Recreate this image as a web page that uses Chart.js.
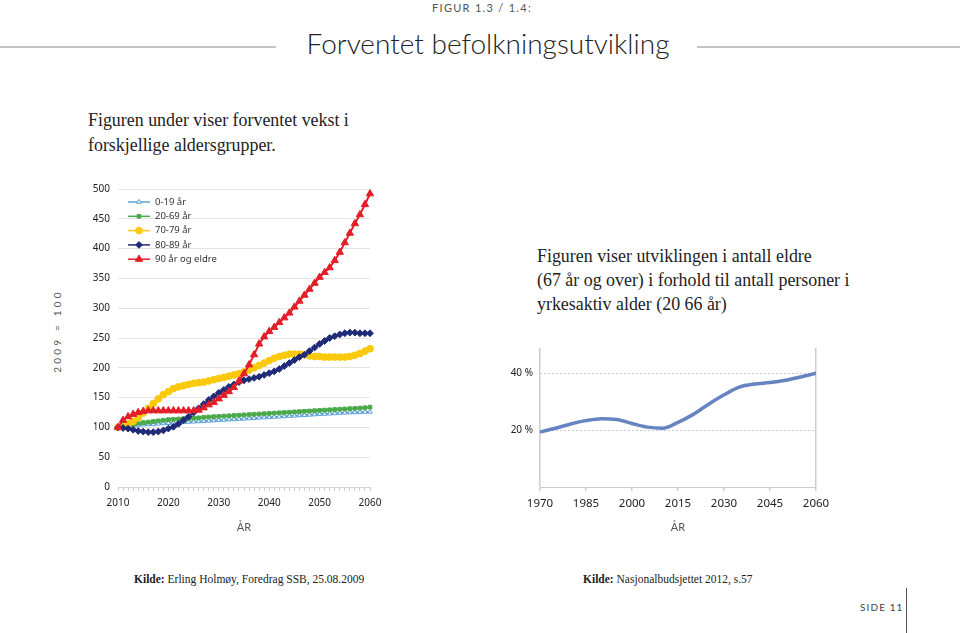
<!DOCTYPE html>
<html>
<head>
<meta charset="utf-8">
<script src="https://cdn.jsdelivr.net/npm/chart.js@4.4.1/dist/chart.umd.min.js"></script>
<style>
  body { margin: 0; width: 960px; height: 633px; position: relative; background: #fff; overflow: hidden; color: #222; }
  .abs { position: absolute; }
  #figno { left: 0; width: 964px; top: 1px; text-align: center; font: 11px "Lato", sans-serif; letter-spacing: 1.3px; color: #555; }
  #title { left: 0; width: 976px; top: 26px; text-align: center; font: 300 28px "Lato", sans-serif; color: #222; }
  .rule { height: 2px; background: #c4c4c4; top: 46px; }
  .serif { font-family: "Liberation Serif", serif; }
  #intro { left: 88px; top: 108px; font-size: 17.9px; line-height: 25px; }
  #rightText { left: 537px; top: 244px; font-size: 17.9px; line-height: 24px; }
  #yTitle { left: 57px; top: 331px; transform: translate(-50%, -50%) rotate(-90deg); font: 10px "Lato", sans-serif; letter-spacing: 3.2px; color: #555; white-space: nowrap; }
  .src { top: 573px; font-size: 11.5px; }
  #page { left: 860px; top: 601px; font: 10px "Lato", sans-serif; letter-spacing: 1.1px; color: #444; }
  #pageRule { left: 906px; top: 588px; width: 1px; height: 45px; background: #555; }
</style>
</head>
<body>
<div id="figno" class="abs">FIGUR 1.3 / 1.4:</div>
<div class="abs rule" style="left:0;width:276px"></div>
<div class="abs rule" style="left:697px;width:263px"></div>
<div id="title" class="abs">Forventet befolkningsutvikling</div>

<div id="intro" class="abs serif">Figuren under viser forventet vekst i<br>forskjellige aldersgrupper.</div>
<div id="rightText" class="abs serif">Figuren viser utviklingen i antall eldre<br>(67 år og over) i forhold til antall personer i<br>yrkesaktiv alder (20 66 år)</div>

<div id="yTitle" class="abs">2009 = 100</div>
<canvas id="ageChart" class="abs" style="left:40px;top:175px" width="360" height="370"></canvas>
<canvas id="ratioChart" class="abs" style="left:490px;top:335px" width="350" height="205"></canvas>

<div class="abs serif src" style="left:134px"><b>Kilde:</b> Erling Holmøy, Foredrag SSB, 25.08.2009</div>
<div class="abs serif src" style="left:583px"><b>Kilde:</b> Nasjonalbudsjettet 2012, s.57</div>
<div id="page" class="abs">SIDE 11</div>
<div id="pageRule" class="abs"></div>

<script>
// left chart: growth by age group, 2009 = 100
const years = [2010, 2011, 2012, 2013, 2014, 2015, 2016, 2017, 2018, 2019,
  2020, 2021, 2022, 2023, 2024, 2025, 2026, 2027, 2028, 2029,
  2030, 2031, 2032, 2033, 2034, 2035, 2036, 2037, 2038, 2039,
  2040, 2041, 2042, 2043, 2044, 2045, 2046, 2047, 2048, 2049,
  2050, 2051, 2052, 2053, 2054, 2055, 2056, 2057, 2058, 2059, 2060];

const age0to19 = [100, 101, 102, 103, 104, 104.5, 105, 105.5, 106, 106.5,
  107, 107.5, 108, 108.5, 109, 109.5, 110, 110.5, 111, 111.5,
  112, 112.5, 113, 113.5, 114, 114.5, 115, 115.5, 116, 116.5,
  117, 117.5, 118, 118.5, 119, 119.5, 120, 120.5, 121, 121.5,
  122, 122.5, 123, 123.5, 124, 124.5, 125, 125, 125.5, 126, 126];

const age20to69 = [100, 102, 104, 105, 107, 108, 109, 110, 111, 112,
  113, 113.5, 114, 114.5, 115, 115.5, 116, 117, 117.5, 118,
  118.5, 119, 119.5, 120, 120.5, 121, 121.5, 122, 122.5, 123,
  123.5, 124, 124.5, 125, 125.5, 126, 126.5, 127, 127.5, 128,
  128.5, 129, 129.5, 130, 130.5, 131, 131.5, 132, 132.5, 133, 134];

const age70to79 = [100, 103, 106, 110, 116, 124, 132, 140, 148, 155,
  160, 165, 168, 170, 172, 174, 175, 176, 178, 180,
  182, 184, 186, 188, 190, 193, 196, 200, 204, 208,
  212, 216, 219, 221, 223, 223, 223, 222, 220, 219,
  219, 218, 218, 218, 218, 218, 219, 221, 224, 228, 232];

const age80to89 = [100, 99, 98, 96, 94, 93, 92, 92, 93, 95,
  98, 101, 106, 112, 118, 125, 132, 139, 146, 152,
  158, 163, 168, 172, 176, 179, 181, 183, 185, 188,
  191, 194, 198, 203, 208, 213, 218, 222, 228, 234,
  240, 245, 250, 253, 256, 258, 259, 259, 258, 258, 258];

const age90plus = [100, 112, 118, 122, 125, 127, 128, 128, 128, 128,
  128, 128, 128, 128, 128, 128, 129, 133, 138, 142,
  148, 154, 160, 167, 178, 190, 205, 222, 240, 252,
  261, 268, 276, 284, 292, 302, 312, 322, 332, 342,
  352, 360, 368, 380, 394, 410, 426, 442, 457, 474, 492];

const leftTicks = [0, 50, 100, 150, 200, 250, 300, 350, 400, 450, 500];

// right chart: elderly (67+) relative to working age (20-66), percent
const ratioYears = [1970, 1975, 1980, 1985, 1990, 1995, 2000, 2005, 2010, 2015,
  2020, 2025, 2030, 2035, 2040, 2045, 2050, 2055, 2060];
const ratioValues = [19.4, 20.7, 22.2, 23.4, 24.1, 23.8, 22.4, 21.1, 20.7, 22.8,
  25.6, 29.2, 32.5, 35.2, 36.3, 36.8, 37.6, 38.8, 40.1];
const rightTicks = [20, 40];

const tickFont = { family: '"Noto Sans", sans-serif', size: 10 };

function series(label, data, color, style, radius, fill, order) {
  return {
    label: label,
    data: data,
    borderColor: color,
    backgroundColor: fill || color,
    pointBorderColor: color,
    pointBackgroundColor: fill || color,
    pointStyle: style,
    pointRadius: radius,
    pointBorderWidth: 1,
    borderWidth: 2,
    tension: 0,
    order: order
  };
}

// legend drawn inside the plot, top-left
const insideLegend = {
  id: 'insideLegend',
  afterDraw(chart) {
    const ctx = chart.ctx;
    const x0 = chart.chartArea.left + 10;
    const y0 = chart.chartArea.top + 13;
    ctx.save();
    ctx.font = '9.5px "Noto Sans", sans-serif';
    ctx.textBaseline = 'middle';
    chart.data.datasets.forEach(function(ds, i) {
      const y = y0 + i * 14.3;
      ctx.strokeStyle = ds.borderColor;
      ctx.lineWidth = 1.5;
      ctx.beginPath();
      ctx.moveTo(x0, y);
      ctx.lineTo(x0 + 22, y);
      ctx.stroke();
      ctx.fillStyle = ds.pointBackgroundColor;
      ctx.strokeStyle = ds.pointBorderColor;
      ctx.lineWidth = 1;
      Chart.helpers.drawPoint(ctx, {pointStyle: ds.pointStyle, radius: ds.pointRadius, borderWidth: 1, rotation: 0}, x0 + 11, y);
      ctx.fillStyle = '#333';
      ctx.fillText(ds.label, x0 + 27, y);
    });
    ctx.restore();
  }
};

new Chart(document.getElementById('ageChart'), {
  type: 'line',
  data: {
    labels: years,
    datasets: [
      series('0-19 år', age0to19, '#5c9fd6', 'triangle', 2.6, '#ffffff', 5),
      series('20-69 år', age20to69, '#4aaa4a', 'rect', 2.6, null, 4),
      series('70-79 år', age70to79, '#fbc90c', 'circle', 3.4, null, 3),
      series('80-89 år', age80to89, '#1f2a78', 'rectRot', 3.4, null, 2),
      series('90 år og eldre', age90plus, '#e31e28', 'triangle', 4.2, null, 1)
    ]
  },
  options: {
    responsive: false,
    animation: false,
    layout: { padding: { top: 12, right: 30, left: 0, bottom: 0 } },
    plugins: { legend: { display: false }, tooltip: { enabled: false } },
    scales: {
      x: {
        type: 'category',
        offset: false,
        afterFit(scale) { scale.height = 58; },
        border: { color: '#d4d4d4' },
        grid: { display: true, drawOnChartArea: false, tickLength: 4, tickColor: '#cfcfcf' },
        ticks: {
          autoSkip: false, maxRotation: 0, padding: 6, color: '#222', font: tickFont,
          callback: function(v, i) { return years[i] % 10 === 0 ? String(years[i]) : ''; }
        },
        title: { display: true, text: 'ÅR', color: '#555', font: { family: '"Lato", sans-serif', size: 11 }, padding: { top: 0, bottom: 11 } }
      },
      y: {
        min: 0, max: 500,
        afterFit(scale) { scale.width = 78; },
        afterBuildTicks(scale) { scale.ticks = leftTicks.map(v => ({ value: v })); },
        border: { display: false },
        grid: { color: '#e4e4e4', drawTicks: false },
        ticks: { padding: 8, color: '#222', font: tickFont }
      }
    }
  },
  plugins: [insideLegend]
});

new Chart(document.getElementById('ratioChart'), {
  type: 'line',
  data: {
    datasets: [{
      label: 'Eldre / yrkesaktive',
      data: ratioYears.map((yr, i) => ({ x: yr, y: ratioValues[i] })),
      borderColor: '#6683c2',
      borderWidth: 3.5,
      pointRadius: 0,
      tension: 0.4,
      cubicInterpolationMode: 'monotone'
    }]
  },
  options: {
    responsive: false,
    animation: false,
    layout: { padding: { top: 12, right: 24, left: 0, bottom: 0 } },
    plugins: { legend: { display: false }, tooltip: { enabled: false } },
    scales: {
      x: {
        type: 'linear', min: 1970, max: 2060,
        afterFit(scale) { scale.height = 53; },
        border: { color: '#cccccc' },
        grid: {
          color: ctx => (ctx.tick && (ctx.tick.value === 1970 || ctx.tick.value === 2060)) ? '#cccccc' : 'rgba(0,0,0,0)',
          tickColor: '#cccccc', tickLength: 4, lineWidth: 1.5
        },
        ticks: { stepSize: 15, padding: 6, color: '#222', font: { family: '"Noto Sans", sans-serif', size: 11.5 }, callback: v => String(v) },
        title: { display: true, text: 'ÅR', color: '#555', font: { family: '"Lato", sans-serif', size: 11 }, padding: { top: 0, bottom: 6 } }
      },
      y: {
        min: 0, max: 49,
        afterFit(scale) { scale.width = 50; },
        afterBuildTicks(scale) { scale.ticks = rightTicks.map(v => ({ value: v })); },
        border: { display: false, dash: [2, 2] },
        grid: { color: '#c4cadb', drawTicks: false },
        ticks: { padding: 7, color: '#222', font: tickFont, callback: v => v + ' %' }
      }
    }
  }
});
</script>
</body>
</html>
